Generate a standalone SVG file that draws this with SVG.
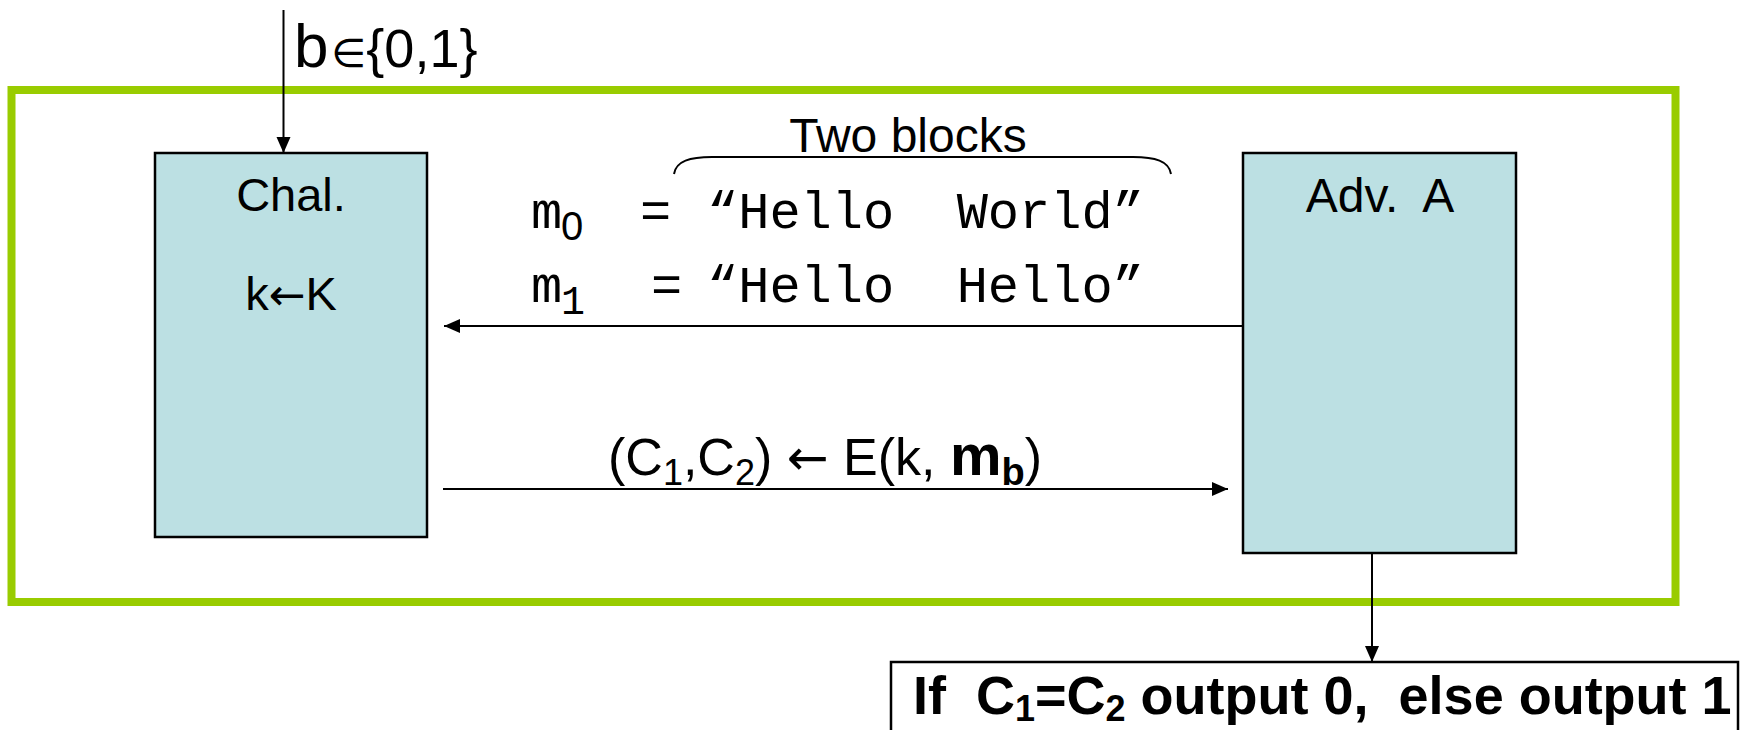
<svg xmlns="http://www.w3.org/2000/svg" width="1741" height="730" viewBox="0 0 1741 730">
<style>
.sans{font-family:"Liberation Sans","DejaVu Sans",Arial,sans-serif;fill:#000}
.mono{font-family:"Liberation Mono","Courier New",monospace;fill:#000}
.arr{font-family:"DejaVu Sans",sans-serif;font-weight:normal}
.box{fill:#BCE0E3;stroke:#000;stroke-width:2.5}
.ln{stroke:#000;stroke-width:2;fill:none}
</style>
<defs>
<marker id="ah" viewBox="0 0 16 16" refX="16" refY="8" markerWidth="16" markerHeight="16" markerUnits="userSpaceOnUse" orient="auto">
<path d="M0,1 L16,8 L0,15 z" fill="#000"/>
</marker>
</defs>
<rect id="frame" x="11.5" y="90" width="1664" height="512" fill="none" stroke="#99CC00" stroke-width="8"/>
<g id="chal">
<rect class="box" x="155" y="153" width="272" height="384"/>
<text class="sans" x="291" y="211" font-size="47" text-anchor="middle">Chal.</text>
<text class="sans" x="291" y="310" font-size="47" text-anchor="middle">k<tspan class="arr" font-size="44">←</tspan>K</text>
</g>
<g id="adv">
<rect class="box" x="1243" y="153" width="273" height="400"/>
<text class="sans" x="1380" y="212" font-size="48" text-anchor="middle" xml:space="preserve">Adv.  A</text>
</g>
<g id="output">
<rect x="891" y="662" width="847" height="90" fill="#fff" stroke="#000" stroke-width="2.5"/>
<text class="sans" x="913" y="714" font-size="54" font-weight="bold" xml:space="preserve">If  C<tspan font-size="36" dy="7">1</tspan><tspan dy="-7">=C</tspan><tspan font-size="36" dy="7">2</tspan><tspan dy="-7"> output 0,  else output 1</tspan></text>
</g>
<g id="input-label">
<text class="sans" x="294" y="67"><tspan font-size="62">b</tspan><tspan class="arr" font-size="40" dx="3">∈</tspan><tspan font-size="54">{0,1}</tspan></text>
</g>
<g id="messages">
<text class="sans" x="908" y="152" font-size="48" text-anchor="middle">Two blocks</text>
<path class="ln" stroke-width="1.5" d="M674,174 C676,161 690,157 712,157 L1133,157 C1155,157 1169,161 1171,174"/>
<text class="mono" y="228" font-size="52" xml:space="preserve"><tspan x="531">m</tspan><tspan x="561" dy="12" font-size="40" font-family="Liberation Sans, sans-serif">0</tspan><tspan x="640" dy="-12">=</tspan><tspan x="707">“Hello  World”</tspan></text>
<text class="mono" y="302" font-size="52" xml:space="preserve"><tspan x="531">m</tspan><tspan x="561" dy="12" font-size="40">1</tspan><tspan x="651" dy="-12">=</tspan><tspan x="707">“Hello  Hello”</tspan></text>
<text class="sans" x="608" y="475" font-size="52" xml:space="preserve">(C<tspan font-size="36" dy="10">1</tspan><tspan dy="-10">,C</tspan><tspan font-size="36" dy="10">2</tspan><tspan dy="-10">) </tspan><tspan class="arr" font-size="50">←</tspan> E(k, <tspan font-weight="bold" font-size="58">m</tspan><tspan font-weight="bold" font-size="38" dy="10">b</tspan><tspan dy="-10">)</tspan></text>
</g>
<g id="connectors">
<line class="ln" x1="283.5" y1="10" x2="283.5" y2="153" marker-end="url(#ah)"/>
<line class="ln" x1="1243" y1="326" x2="444" y2="326" marker-end="url(#ah)"/>
<line class="ln" x1="443" y1="489" x2="1228" y2="489" marker-end="url(#ah)"/>
<line class="ln" x1="1372" y1="553" x2="1372" y2="662" marker-end="url(#ah)"/>
</g>
</svg>
